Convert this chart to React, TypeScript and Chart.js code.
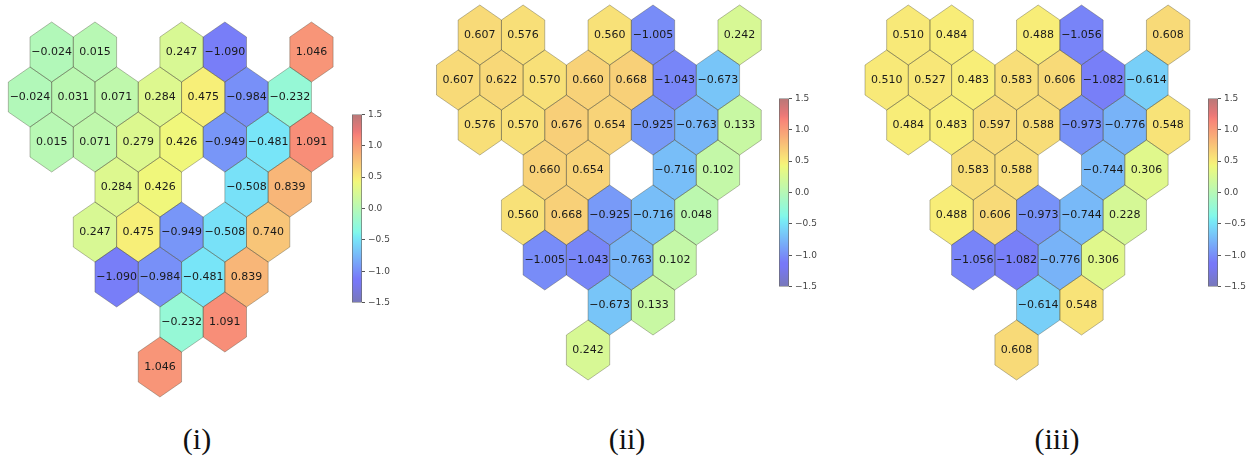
import React, { useEffect, useRef } from "react";
import { Chart, registerables } from "chart.js";

Chart.register(...registerables);

// Hex grid shared by all three maps: row index and half-step column index of each cell
const CELL_ROWS = [0, 0, 0, 0, 0, 1, 1, 1, 1, 1, 1, 1, 2, 2, 2, 2, 2, 2, 2, 3, 3, 3, 3, 4, 4, 4, 4, 4, 5, 5, 5, 5, 6, 6, 7];
const CELL_COLS = [2, 4, 8, 10, 14, 1, 3, 5, 7, 9, 11, 13, 2, 4, 6, 8, 10, 12, 14, 5, 7, 11, 13, 4, 6, 8, 10, 12, 5, 7, 9, 11, 8, 10, 7];

const VALUES_I = [
  -0.024, 0.015, 0.247, -1.09, 1.046,
  -0.024, 0.031, 0.071, 0.284, 0.475, -0.984, -0.232,
  0.015, 0.071, 0.279, 0.426, -0.949, -0.481, 1.091,
  0.284, 0.426, -0.508, 0.839,
  0.247, 0.475, -0.949, -0.508, 0.74,
  -1.09, -0.984, -0.481, 0.839,
  -0.232, 1.091,
  1.046,
];
const VALUES_II = [
  0.607, 0.576, 0.56, -1.005, 0.242,
  0.607, 0.622, 0.57, 0.66, 0.668, -1.043, -0.673,
  0.576, 0.57, 0.676, 0.654, -0.925, -0.763, 0.133,
  0.66, 0.654, -0.716, 0.102,
  0.56, 0.668, -0.925, -0.716, 0.048,
  -1.005, -1.043, -0.763, 0.102,
  -0.673, 0.133,
  0.242,
];
const VALUES_III = [
  0.51, 0.484, 0.488, -1.056, 0.608,
  0.51, 0.527, 0.483, 0.583, 0.606, -1.082, -0.614,
  0.484, 0.483, 0.597, 0.588, -0.973, -0.776, 0.548,
  0.583, 0.588, -0.744, 0.306,
  0.488, 0.606, -0.973, -0.744, 0.228,
  -1.056, -1.082, -0.776, 0.306,
  -0.614, 0.548,
  0.608,
];

const PANEL_LABELS = ["(i)", "(ii)", "(iii)"];
const CBAR_TICKS = [1.5, 1.0, 0.5, 0.0, -0.5, -1.0, -1.5];
const CBAR_TICK_LABELS = ["1.5", "1.0", "0.5", "0.0", "\u22120.5", "\u22121.0", "\u22121.5"];
const CBAR_MIN = -1.5;
const CBAR_MAX = 1.5;

const FONT = "'DejaVu Sans', sans-serif";

// jet colormap segments, washed out toward a light grey
const JET: Record<string, number[][]> = {
  r: [[0, 0], [0.35, 0], [0.66, 1], [0.89, 1], [1, 0.5]],
  g: [[0, 0], [0.125, 0], [0.375, 1], [0.64, 1], [0.91, 0], [1, 0]],
  b: [[0, 0.5], [0.11, 1], [0.34, 1], [0.65, 0], [1, 0]],
};
const ALPHA = 0.5;
const WASH = 240;

function seg(points: number[][], t: number) {
  for (let i = 1; i < points.length; i++) {
    const [x0, y0] = points[i - 1];
    const [x1, y1] = points[i];
    if (t <= x1) return y0 + ((y1 - y0) * (t - x0)) / (x1 - x0 || 1);
  }
  return points[points.length - 1][1];
}

function jetAt(t: number) {
  const c = Math.min(1, Math.max(0, t));
  const ch = (k: string) => Math.round(WASH * (1 - ALPHA) + ALPHA * 255 * seg(JET[k], c));
  return `rgb(${ch("r")},${ch("g")},${ch("b")})`;
}

function valueColor(v: number) {
  return jetAt((v - CBAR_MIN) / (CBAR_MAX - CBAR_MIN));
}

function fmt(v: number) {
  return v.toFixed(3).replace("-", "\u2212");
}

// Draws each data point as a pointy-top hexagon sized from the scale units
const hexPlugin = {
  id: "hexCells",
  afterDatasetsDraw(chart: any) {
    const ctx = chart.ctx;
    const xs = chart.scales.x;
    const ys = chart.scales.y;
    const meta = chart.getDatasetMeta(0);
    const data = chart.data.datasets[0].data;
    const hw = Math.abs(xs.getPixelForValue(1) - xs.getPixelForValue(0));
    const R = (Math.abs(ys.getPixelForValue(1) - ys.getPixelForValue(0)) * 2) / 3;
    const path = (x: number, y: number) => {
      ctx.beginPath();
      ctx.moveTo(x, y - R);
      ctx.lineTo(x + hw, y - R / 2);
      ctx.lineTo(x + hw, y + R / 2);
      ctx.lineTo(x, y + R);
      ctx.lineTo(x - hw, y + R / 2);
      ctx.lineTo(x - hw, y - R / 2);
      ctx.closePath();
    };
    ctx.save();
    meta.data.forEach((pt: any, i: number) => {
      path(pt.x, pt.y);
      ctx.fillStyle = valueColor(data[i].v);
      ctx.fill();
    });
    ctx.lineWidth = 0.8;
    ctx.strokeStyle = "rgba(70,70,50,0.45)";
    meta.data.forEach((pt: any) => {
      path(pt.x, pt.y);
      ctx.stroke();
    });
    ctx.fillStyle = "#1a1a1a";
    ctx.font = `11px ${FONT}`;
    ctx.textAlign = "center";
    ctx.textBaseline = "middle";
    meta.data.forEach((pt: any, i: number) => {
      ctx.fillText(fmt(data[i].v), pt.x, pt.y);
    });
    ctx.restore();
  },
};

const COL_STEP = 21.65; // px per half column
const ROW_STEP = 45; // px per row

function HexMap({ values, left, top, width, height, ox, oy }: any) {
  const ref = useRef<HTMLCanvasElement>(null);
  useEffect(() => {
    const chart = new Chart(ref.current!, {
      type: "scatter",
      data: {
        datasets: [
          {
            data: values.map((v: number, i: number) => ({ x: CELL_COLS[i], y: CELL_ROWS[i], v })),
            pointRadius: 0,
            pointHoverRadius: 0,
          },
        ],
      },
      options: {
        responsive: false,
        animation: false,
        events: [],
        layout: { padding: 0 },
        plugins: { legend: { display: false }, tooltip: { enabled: false } },
        scales: {
          x: { type: "linear", display: false, min: -ox / COL_STEP, max: (width - ox) / COL_STEP },
          y: { type: "linear", display: false, reverse: true, min: -oy / ROW_STEP, max: (height - oy) / ROW_STEP },
        },
      },
      plugins: [hexPlugin],
    } as any);
    return () => chart.destroy();
  }, []);
  return (
    <canvas
      ref={ref}
      width={width}
      height={height}
      style={{ position: "absolute", left, top, width, height }}
    />
  );
}

const CB_PAD = 8;
const CB_AXIS = 30;

function ColorBar({ left, top, barWidth, barHeight }: any) {
  const ref = useRef<HTMLCanvasElement>(null);
  const width = barWidth + CB_AXIS;
  const height = barHeight + CB_PAD * 2;
  useEffect(() => {
    const chart = new Chart(ref.current!, {
      type: "bar",
      data: {
        labels: [""],
        datasets: [
          {
            data: [[CBAR_MIN, CBAR_MAX]],
            barPercentage: 1,
            categoryPercentage: 1,
            borderSkipped: false,
            borderWidth: 1,
            borderColor: "#6a6a6a",
            backgroundColor: (c: any) => {
              const ch = c.chart;
              if (!ch.chartArea) return "#ccc";
              const y = ch.scales.y;
              const g = ch.ctx.createLinearGradient(0, y.getPixelForValue(CBAR_MIN), 0, y.getPixelForValue(CBAR_MAX));
              const n = 64;
              for (let i = 0; i <= n; i++) g.addColorStop(i / n, jetAt(i / n));
              return g;
            },
          },
        ],
      },
      options: {
        responsive: false,
        animation: false,
        events: [],
        layout: { padding: { top: CB_PAD, bottom: CB_PAD, left: 0, right: 0 } },
        plugins: { legend: { display: false }, tooltip: { enabled: false } },
        scales: {
          x: { display: false },
          y: {
            position: "right",
            min: CBAR_MIN,
            max: CBAR_MAX,
            afterBuildTicks: (s: any) => {
              s.ticks = CBAR_TICKS.map((value) => ({ value }));
            },
            afterFit: (s: any) => {
              s.width = CB_AXIS;
            },
            ticks: {
              autoSkip: false,
              padding: 3,
              color: "#444",
              font: { family: FONT, size: 9 },
              callback: (v: any) => {
                const i = CBAR_TICKS.findIndex((t) => Math.abs(t - Number(v)) < 1e-9);
                return i >= 0 ? CBAR_TICK_LABELS[i] : "";
              },
            },
            grid: { drawOnChartArea: false, drawTicks: true, tickLength: 3, color: "#555" },
            border: { display: false },
          },
        },
      },
    } as any);
    return () => chart.destroy();
  }, []);
  return (
    <canvas
      ref={ref}
      width={width}
      height={height}
      style={{ position: "absolute", left, top: top - CB_PAD, width, height }}
    />
  );
}

const PANELS = [
  { values: VALUES_I, left: 0, top: 0, ox: 8.35, oy: 52, cbLeft: 352, cbTop: 114, labelX: 197 },
  { values: VALUES_II, left: 420, top: 0, ox: 16.5, oy: 35, cbLeft: 779, cbTop: 98, labelX: 627 },
  { values: VALUES_III, left: 850, top: 0, ox: 15, oy: 35, cbLeft: 1208, cbTop: 98, labelX: 1057 },
];

export default function App() {
  return (
    <div
      style={{
        position: "fixed",
        left: 0,
        top: 0,
        width: 1250,
        height: 467,
        background: "#fff",
        overflow: "hidden",
      }}
    >
      {PANELS.map((p, i) => (
        <React.Fragment key={i}>
          <HexMap values={p.values} left={p.left} top={p.top} width={345} height={400} ox={p.ox} oy={p.oy} />
          <ColorBar left={p.cbLeft} top={p.cbTop} barWidth={10} barHeight={189} />
          <div
            style={{
              position: "absolute",
              left: p.labelX - 60,
              width: 120,
              top: 421,
              textAlign: "center",
              fontFamily: "'Liberation Serif', serif",
              fontSize: 30,
              lineHeight: "36px",
              color: "#111",
            }}
          >
            {PANEL_LABELS[i]}
          </div>
        </React.Fragment>
      ))}
    </div>
  );
}
